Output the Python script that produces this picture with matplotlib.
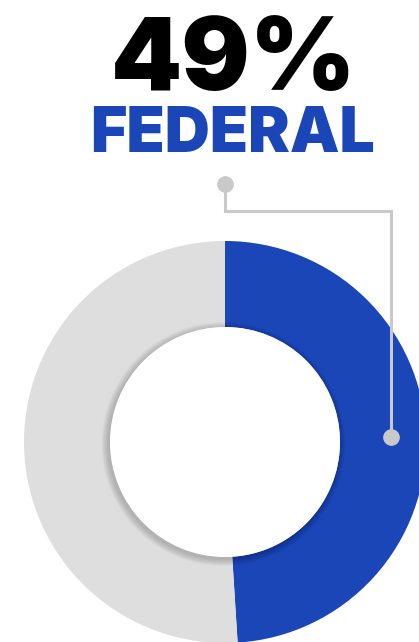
import matplotlib.pyplot as plt
from matplotlib.patches import Circle

# data
labels = ["Federal", "Other"]
shares = [49, 51]
colors = ["#1b46b8", "#dedede"]
big_label = "49%"
sub_label = "FEDERAL"

W, H = 419, 642
fig = plt.figure(figsize=(W / 100, H / 100), dpi=100)
ax = fig.add_axes([0, 0, 1, 1])

# donut geometry in pixel units (y up)
cx, cy = 225, H - 442
r_out, r_in = 201, 115

ax.pie(shares, colors=colors, startangle=90, counterclock=False,
       center=(cx, cy), radius=r_out,
       wedgeprops=dict(width=r_out - r_in, linewidth=0))

# soft shadow under the white hole
for k in range(10, 0, -1):
    ax.add_patch(Circle((cx - 1.5, cy - 2), r_in + k * 0.7, color="black",
                        alpha=0.018, lw=0, zorder=3))
ax.add_patch(Circle((cx, cy), r_in, color="white", lw=0, zorder=4))

# connector line with dots
lc = "#c9c9c9"
px = [225, 225, 391, 391]
py = [H - 184, H - 211, H - 211, H - 437]
ax.plot(px, py, color=lc, lw=2.2, zorder=5, solid_joinstyle="miter")
ax.plot([px[0], px[-1]], [py[0], py[-1]], "o", color=lc, ms=11, zorder=6)

ax.text(234, H - 90, big_label, ha="center", va="baseline",
        fontsize=73, fontweight="black", family="Inter", color="black")
ax.text(232, H - 152, sub_label, ha="center", va="baseline",
        fontsize=45, fontweight="black", family="Inter", color=colors[0])

ax.set_xlim(0, W)
ax.set_ylim(0, H)
ax.set_aspect("auto")
ax.axis("off")

fig.savefig("out.png", dpi=100)
